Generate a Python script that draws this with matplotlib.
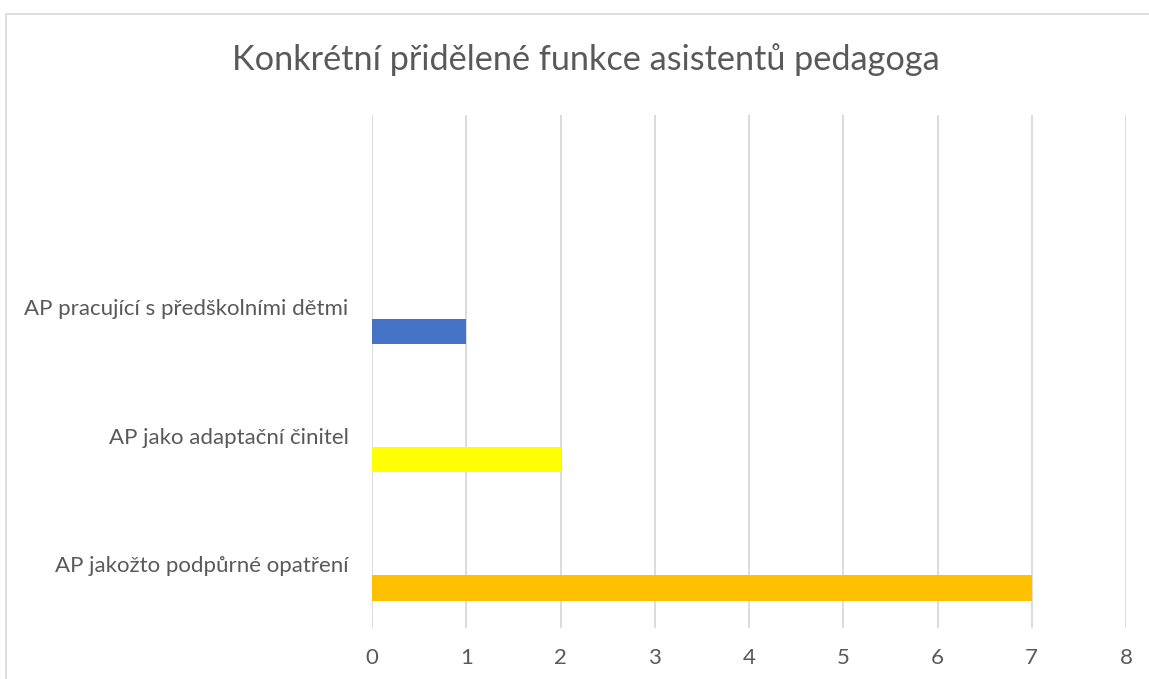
import matplotlib
matplotlib.use("Agg")
import matplotlib.pyplot as plt
from matplotlib.patches import Rectangle

# data (top to bottom as in the chart)
categories = ["AP pracující s předškolními dětmi",
              "AP jako adaptační činitel",
              "AP jakožto podpůrné opatření"]
values = [1, 2, 7]
colors = ["#4472C4", "#FFFF00", "#FFC000"]
x_ticks = [0, 1, 2, 3, 4, 5, 6, 7, 8]
title = "Konkrétní přidělené funkce asistentů pedagoga"

W, H = 1149, 679
TEXT = "#595959"
GRID = "#D9D9D9"

plt.rcParams['font.family'] = ['Lato', 'DejaVu Sans']

fig = plt.figure(figsize=(W / 100, H / 100), dpi=100)

# chart frame (light grey, cut by the image edges)
fig.patches.append(Rectangle((6 / W, -0.1), 1.2, (H - 14) / H + 0.1,
                             transform=fig.transFigure, fill=False,
                             edgecolor=GRID, linewidth=1.2))

# plot area: x 372..1126, y 115..628 (px)
ax = fig.add_axes([372 / W, 1 - 628 / H, (1126 - 372) / W, (628 - 115) / H])

n = len(categories)
pos = [n - i for i in range(n)]       # 3, 2, 1 ; slot 4 stays empty at top
bar_off = 0.1875
bar_h = 0.2
ax.barh([p - bar_off for p in pos], values, height=bar_h, color=colors, zorder=3)

ax.set_xlim(0, 8)
ax.set_ylim(0.5, 4.5)
ax.set_xticks(x_ticks)
ax.set_xticklabels([str(t) for t in x_ticks])
ax.set_yticks(pos)
ax.set_yticklabels(categories)

ax.grid(axis='x', color=GRID, linewidth=1.3, zorder=0)
for s in ax.spines.values():
    s.set_visible(False)
ax.tick_params(axis='both', length=0, labelsize=16, colors=TEXT)
ax.tick_params(axis='x', pad=14.5)
ax.tick_params(axis='y', pad=17)

fig.text(586 / W, 1 - 60 / H, title, ha='center', va='center',
         fontsize=24.7, color=TEXT)

fig.savefig("out.png", dpi=100)
